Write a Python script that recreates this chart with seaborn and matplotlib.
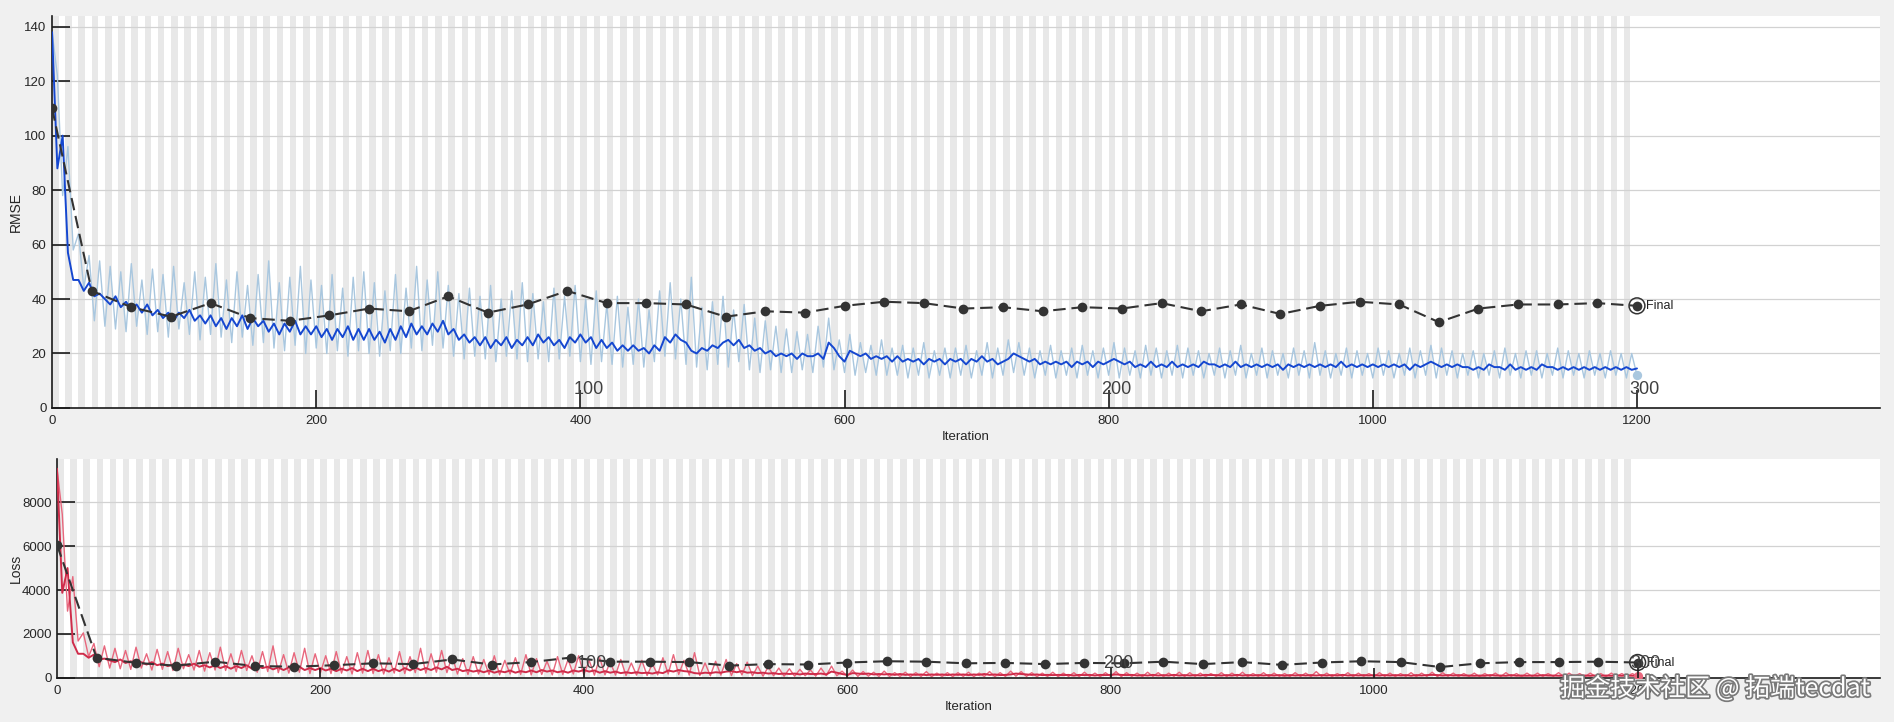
import matplotlib
matplotlib.use("Agg")
import matplotlib.pyplot as plt
import matplotlib.patheffects as pe
import seaborn as sns

# x positions: one training reading per epoch (4 iterations), validation every 30 iterations
train_iter = list(range(0, 1201, 4))
val_iter = list(range(0, 1201, 30))
x_ticks = [0, 200, 400, 600, 800, 1000, 1200]
epoch_ticks = [200, 400, 600, 800, 1000, 1200]
epoch_labels = {400: "100", 800: "200", 1200: "300"}

# training RMSE (raw)
train_rmse = [
    138, 122, 78, 96, 58, 64, 44, 56, 32, 54,
    30, 52, 29, 50, 28, 53, 30, 47, 27, 51,
    28, 49, 26, 52, 29, 46, 27, 50, 25, 48,
    27, 53, 26, 47, 24, 50, 26, 45, 23, 49,
    24, 54, 22, 46, 21, 48, 23, 52, 20, 47,
    22, 45, 20, 49, 21, 44, 19, 48, 21, 50,
    20, 46, 19, 43, 21, 49, 20, 44, 22, 52,
    21, 47, 23, 50, 22, 45, 19, 42, 18, 44,
    19, 41, 18, 45, 17, 40, 19, 43, 18, 46,
    17, 42, 18, 39, 17, 44, 18, 41, 19, 45,
    17, 40, 16, 43, 17, 38, 16, 41, 15, 37,
    16, 40, 15, 36, 17, 43, 19, 46, 18, 40,
    16, 48, 15, 37, 14, 39, 16, 41, 15, 36,
    17, 38, 14, 33, 13, 32, 14, 30, 13, 29,
    13, 28, 14, 27, 13, 30, 15, 33, 14, 25,
    13, 27, 12, 24, 13, 23, 12, 25, 12, 22,
    12, 23, 11, 22, 12, 24, 11, 21, 12, 22,
    11, 22, 12, 23, 11, 21, 12, 24, 11, 22,
    12, 25, 13, 24, 12, 22, 11, 21, 12, 23,
    11, 21, 12, 22, 11, 23, 12, 21, 11, 22,
    12, 24, 11, 22, 12, 21, 11, 23, 12, 22,
    11, 21, 12, 23, 11, 22, 12, 21, 11, 20,
    12, 22, 11, 21, 12, 23, 11, 20, 12, 22,
    11, 21, 12, 20, 11, 22, 12, 21, 11, 24,
    12, 21, 11, 20, 12, 22, 11, 21, 12, 20,
    11, 22, 12, 21, 11, 20, 12, 22, 11, 21,
    12, 23, 11, 22, 12, 21, 11, 20, 12, 21,
    11, 20, 12, 21, 11, 22, 12, 20, 11, 21,
    12, 21, 11, 20, 12, 22, 11, 21, 12, 20,
    11, 21, 12, 20, 11, 21, 12, 20, 11, 20,
    12,
]

# smoothed training RMSE (dark blue)
smooth_rmse = [
    138, 88, 100, 57, 47, 47, 43, 46, 41, 42,
    40, 38, 41, 37, 39, 36, 38, 35, 38, 34,
    36, 33, 35, 32, 35, 33, 36, 32, 34, 31,
    34, 30, 33, 29, 33, 30, 34, 29, 33, 30,
    32, 28, 31, 27, 31, 28, 32, 27, 30, 27,
    30, 26, 29, 25, 29, 26, 30, 25, 29, 25,
    29, 25, 28, 24, 29, 25, 30, 26, 31, 27,
    30, 27, 31, 28, 32, 27, 29, 25, 27, 24,
    26, 23, 26, 22, 25, 23, 26, 22, 25, 23,
    26, 23, 27, 24, 26, 23, 25, 22, 26, 24,
    27, 24, 26, 22, 25, 22, 24, 21, 23, 21,
    23, 21, 22, 20, 23, 21, 26, 24, 27, 25,
    24, 21, 20, 22, 21, 23, 22, 24, 25, 23,
    25, 22, 23, 21, 22, 20, 21, 19, 20, 19,
    20, 18, 20, 19, 19, 20, 18, 24, 22, 19,
    17, 21, 20, 19, 20, 18, 19, 18, 19, 17,
    19, 17, 18, 17, 18, 16, 18, 17, 18, 16,
    18, 17, 18, 16, 18, 17, 19, 17, 18, 16,
    17, 18, 20, 19, 18, 17, 18, 16, 17, 16,
    17, 16, 17, 15, 17, 16, 17, 15, 17, 16,
    17, 18, 17, 16, 17, 15, 16, 15, 17, 15,
    16, 15, 17, 15, 16, 15, 16, 15, 17, 16,
    16, 15, 16, 15, 17, 15, 16, 15, 16, 15,
    16, 15, 16, 14, 16, 15, 16, 15, 16, 15,
    16, 15, 16, 15, 17, 15, 16, 15, 16, 15,
    16, 15, 16, 15, 16, 15, 16, 14, 16, 15,
    16, 17, 16, 15, 16, 15, 16, 15, 15, 14,
    15, 14, 16, 15, 15, 14, 16, 14, 15, 14,
    15, 14, 16, 15, 15, 14, 15, 14, 15, 14,
    15, 14, 15, 14, 15, 14, 15, 14, 15, 14,
    14.5,
]

# training loss (raw, red)
train_loss = [
    9520, 7440, 3040, 4610, 1680, 2050, 970, 1570, 510, 1460,
    450, 1350, 420, 1250, 390, 1400, 450, 1100, 360, 1300,
    390, 1200, 340, 1350, 420, 1060, 360, 1250, 310, 1150,
    360, 1400, 340, 1100, 290, 1250, 340, 1010, 260, 1200,
    290, 1460, 240, 1060, 220, 1150, 260, 1350, 200, 1100,
    240, 1010, 200, 1200, 220, 970, 180, 1150, 220, 1250,
    200, 1060, 180, 920, 220, 1200, 200, 970, 240, 1350,
    220, 1100, 260, 1250, 240, 1010, 180, 880, 160, 970,
    180, 840, 160, 1010, 140, 800, 180, 920, 160, 1060,
    140, 880, 160, 760, 140, 970, 160, 840, 180, 1010,
    140, 800, 130, 920, 140, 720, 130, 840, 110, 680,
    130, 800, 110, 650, 140, 920, 180, 1060, 160, 800,
    130, 1150, 110, 680, 100, 760, 130, 840, 110, 650,
    140, 720, 100, 540, 80, 510, 100, 450, 80, 420,
    80, 390, 100, 360, 80, 450, 110, 540, 100, 310,
    80, 360, 70, 290, 80, 260, 70, 310, 70, 240,
    70, 260, 60, 240, 70, 290, 60, 220, 70, 240,
    60, 240, 70, 260, 60, 220, 70, 290, 60, 240,
    70, 310, 80, 290, 70, 240, 60, 220, 70, 260,
    60, 220, 70, 240, 60, 260, 70, 220, 60, 240,
    70, 290, 60, 240, 70, 220, 60, 260, 70, 240,
    60, 220, 70, 260, 60, 240, 70, 220, 60, 200,
    70, 240, 60, 220, 70, 260, 60, 200, 70, 240,
    60, 220, 70, 200, 60, 240, 70, 220, 60, 290,
    70, 220, 60, 200, 70, 240, 60, 220, 70, 200,
    60, 240, 70, 220, 60, 200, 70, 240, 60, 220,
    70, 260, 60, 240, 70, 220, 60, 200, 70, 220,
    60, 200, 70, 220, 60, 240, 70, 200, 60, 220,
    70, 220, 60, 200, 70, 240, 60, 220, 70, 200,
    60, 220, 70, 200, 60, 220, 70, 200, 60, 200,
    70,
]

# smoothed training loss
smooth_loss = [
    9520, 3870, 5000, 1620, 1100, 1100, 920, 1060, 840, 880,
    800, 720, 840, 680, 760, 650, 720, 610, 720, 580,
    650, 540, 610, 510, 610, 540, 650, 510, 580, 480,
    580, 450, 540, 420, 540, 450, 580, 420, 540, 450,
    510, 390, 480, 360, 480, 390, 510, 360, 450, 360,
    450, 340, 420, 310, 420, 340, 450, 310, 420, 310,
    420, 310, 390, 290, 420, 310, 450, 340, 480, 360,
    450, 360, 480, 390, 510, 360, 420, 310, 360, 290,
    340, 260, 340, 240, 310, 260, 340, 240, 310, 260,
    340, 260, 360, 290, 340, 260, 310, 240, 340, 290,
    360, 290, 340, 240, 310, 240, 290, 220, 260, 220,
    260, 220, 240, 200, 260, 220, 340, 290, 360, 310,
    290, 220, 200, 240, 220, 260, 240, 290, 310, 260,
    310, 240, 260, 220, 240, 200, 220, 180, 200, 180,
    200, 160, 200, 180, 180, 200, 160, 290, 240, 180,
    140, 220, 200, 180, 200, 160, 180, 160, 180, 140,
    180, 140, 160, 140, 160, 130, 160, 140, 160, 130,
    160, 140, 160, 130, 160, 140, 180, 140, 160, 130,
    140, 160, 200, 180, 160, 140, 160, 130, 140, 130,
    140, 130, 140, 110, 140, 130, 140, 110, 140, 130,
    140, 160, 140, 130, 140, 110, 130, 110, 140, 110,
    130, 110, 140, 110, 130, 110, 130, 110, 140, 130,
    130, 110, 130, 110, 140, 110, 130, 110, 130, 110,
    130, 110, 130, 100, 130, 110, 130, 110, 130, 110,
    130, 110, 130, 110, 140, 110, 130, 110, 130, 110,
    130, 110, 130, 110, 130, 110, 130, 100, 130, 110,
    130, 140, 130, 110, 130, 110, 130, 110, 110, 100,
    110, 100, 130, 110, 110, 100, 130, 100, 110, 100,
    110, 100, 130, 110, 110, 100, 110, 100, 110, 100,
    110, 100, 110, 100, 110, 100, 110, 100, 110, 100,
    105,
]

# validation readings (black dashed line with dots)
val_rmse = [110, 43, 37, 33.5, 38.5, 33, 32, 34, 36.5, 35.5,
            41, 35, 38, 43, 38.5, 38.5, 38, 33.5, 35.5, 35,
            37.5, 39, 38.5, 36.5, 37, 35.5, 37, 36.5, 38.5, 35.5,
            38, 34.5, 37.5, 39, 38, 31.5, 36.5, 38, 38, 38.5,
            37.5]
val_loss = [6050, 925, 685, 560, 740, 545, 512, 578, 666, 630,
            840, 612, 722, 925, 740, 740, 722, 560, 630, 612,
            703, 760, 740, 666, 685, 630, 685, 666, 740, 630,
            722, 595, 703, 760, 722, 496, 666, 722, 722, 740,
            703]

sns.set_theme(style="white")
plt.rcParams["font.family"] = ["Liberation Sans", "Noto Sans CJK SC", "DejaVu Sans"]

fig = plt.figure(figsize=(18.94, 7.22), dpi=100, facecolor="#f0f0f0")
ax1 = fig.add_axes([0.0275, 0.435, 0.9651, 0.543])
ax2 = fig.add_axes([0.0301, 0.061, 0.9625, 0.303])


def draw_panel(ax, raw, smooth, val, raw_color, smooth_color, ylim, yticks, ylabel,
               ylabel_x, xlabel_y, epoch_label_y):
    ax.set_facecolor("white")
    # alternating grey bands over the training range
    for left in range(0, 1200, 10):
        ax.axvspan(left, left + 5, color="#e8e8e8", lw=0, zorder=0)

    sns.lineplot(x=train_iter, y=raw, ax=ax, color=raw_color, lw=1.0, zorder=2)
    sns.lineplot(x=train_iter, y=smooth, ax=ax, color=smooth_color, lw=1.4, zorder=3)
    sns.lineplot(x=val_iter, y=val, ax=ax, color="#333333", lw=1.5,
                 linestyle=(0, (6, 2.8)), marker="o", markersize=7,
                 markeredgewidth=0, zorder=4)
    sns.scatterplot(x=[train_iter[-1]], y=[raw[-1]], ax=ax, color=raw_color,
                    s=45, linewidth=0, zorder=3)
    # final validation point
    ax.scatter([val_iter[-1]], [val[-1]], s=130, facecolors="none",
               edgecolors="#333333", linewidths=1.1, zorder=5)
    ax.text(val_iter[-1] + 7, val[-1], "Final", fontsize=9, color="#222222",
            va="center", ha="left", zorder=6)

    ax.set_xlim(0, 1384)
    ax.set_ylim(*ylim)
    ax.set_xticks(x_ticks)
    ax.set_yticks(yticks)
    ax.grid(axis="y", color="#d2d2d2", lw=0.9)
    ax.grid(axis="x", visible=False)
    ax.set_axisbelow(True)

    for side in ["top", "right"]:
        ax.spines[side].set_visible(False)
    for side in ["left", "bottom"]:
        ax.spines[side].set_color("#1a1a1a")
        ax.spines[side].set_linewidth(1.2)

    ax.tick_params(axis="y", direction="in", length=13, width=1.2, color="#1a1a1a",
                   labelsize=9.5, labelcolor="#262626", pad=4, left=True)
    ax.tick_params(axis="x", length=0, labelsize=9.5, labelcolor="#262626", pad=5)

    # epoch axis drawn inside the plot
    ax.vlines(epoch_ticks, 0, 0.046, transform=ax.get_xaxis_transform(),
              color="#1a1a1a", lw=1.2, zorder=6)
    for it, lab in epoch_labels.items():
        ax.text(it + 6, epoch_label_y, lab, transform=ax.get_xaxis_transform(),
                fontsize=13, color="#404040", ha="center", va="center", zorder=6)

    ax.set_xlabel("Iteration", fontsize=9.5, color="#262626")
    ax.set_ylabel(ylabel, fontsize=10, color="#262626")
    ax.xaxis.set_label_coords(0.5, xlabel_y)
    ax.yaxis.set_label_coords(ylabel_x, 0.5)


draw_panel(ax1, train_rmse, smooth_rmse, val_rmse, "#a9c7df", "#1547d0",
           (0, 144), [0, 20, 40, 60, 80, 100, 120, 140], "RMSE", -0.016, -0.059, 0.046)
draw_panel(ax2, train_loss, smooth_loss, val_loss, "#e8677d", "#cf2c4a",
           (0, 9950), [0, 2000, 4000, 6000, 8000], "Loss", -0.0187, -0.105, 0.064)

fig.text(0.9055, 0.046, "掘金技术社区 @ 拓端tecdat", fontsize=18, color="white",
         family=["Noto Sans CJK SC", "DejaVu Sans"], ha="center", va="center",
         path_effects=[pe.withStroke(linewidth=2.5, foreground="#7a7a7a")])

fig.savefig("out.png", dpi=100, facecolor=fig.get_facecolor())
